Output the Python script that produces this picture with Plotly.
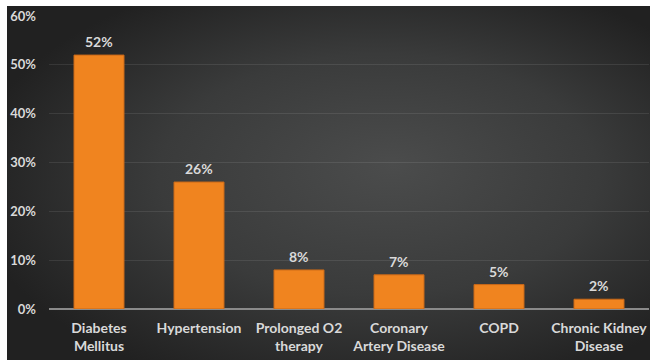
import base64
import plotly.graph_objects as go

# Comorbidity prevalence (%)
categories = ["Diabetes<br>Mellitus", "Hypertension", "Prolonged O2<br>therapy",
              "Coronary<br>Artery Disease", "COPD", "Chronic Kidney<br>Disease"]
values = [52, 26, 8, 7, 5, 2]
y_ticks = [0, 10, 20, 30, 40, 50, 60]
y_tick_labels = [f"{t}%" for t in y_ticks]

FONT = "Lato"
TEXT_COLOR = "#d9d9d9"
BAR_COLOR = "#f0841f"
BAR_EDGE = "#c86818"

# Dark radial-gradient backdrop rendered as an inline SVG
svg = """<svg xmlns='http://www.w3.org/2000/svg' width='643' height='354' viewBox='0 0 643 354' preserveAspectRatio='none'>
<defs><radialGradient id='g' cx='0.56' cy='0.5' r='0.62' fx='0.6' fy='0.45'>
<stop offset='0' stop-color='#4b4c4c'/>
<stop offset='0.55' stop-color='#3a3b3b'/>
<stop offset='1' stop-color='#212121'/>
</radialGradient></defs>
<rect width='643' height='354' fill='url(#g)'/></svg>"""
bg_uri = "data:image/svg+xml;base64," + base64.b64encode(svg.encode()).decode()

fig = go.Figure()
fig.add_trace(go.Bar(
    x=categories, y=values, width=0.5,
    marker=dict(color=BAR_COLOR, line=dict(color=BAR_EDGE, width=1)),
    hoverinfo="skip",
))

for c, v in zip(categories, values):
    fig.add_annotation(x=c, y=v, text=f"<b>{v}%</b>", showarrow=False,
                       yanchor="bottom", yshift=3,
                       font=dict(family=FONT, size=14, color=TEXT_COLOR))

plot_l, plot_r, plot_t, plot_b = 49, 1, 16, 51
W, H = 650, 360
pw, ph = W - plot_l - plot_r, H - plot_t - plot_b

fig.add_layout_image(dict(
    source=bg_uri, xref="paper", yref="paper",
    x=(7 - plot_l) / pw, y=(H - plot_b - 6) / ph,
    sizex=(W - 7) / pw, sizey=(H - 6) / ph,
    xanchor="left", yanchor="top", sizing="stretch", layer="below",
))

fig.update_layout(
    width=W, height=H,
    margin=dict(l=plot_l, r=plot_r, t=plot_t, b=plot_b, pad=0),
    paper_bgcolor="white", plot_bgcolor="rgba(0,0,0,0)",
    showlegend=False, bargap=0.5,
    font=dict(family=FONT, color=TEXT_COLOR),
)
fig.update_xaxes(
    tickfont=dict(family=FONT, size=14, color=TEXT_COLOR),
    tickprefix="<b>", ticksuffix="</b>",
    showgrid=False, showline=False, zeroline=False,
    ticks="", ticklabelstandoff=9,
)
fig.update_yaxes(
    range=[0, 60], tickvals=y_ticks, ticktext=[f"<b>{t}</b>" for t in y_tick_labels],
    tickfont=dict(family=FONT, size=13, color=TEXT_COLOR),
    showgrid=True, gridcolor="rgba(255,255,255,0.09)", gridwidth=1,
    zeroline=True, zerolinecolor="#8a8a8a", zerolinewidth=1.5,
    showline=False, ticks="", ticklabelstandoff=12,
)

fig.write_html("out.html")
